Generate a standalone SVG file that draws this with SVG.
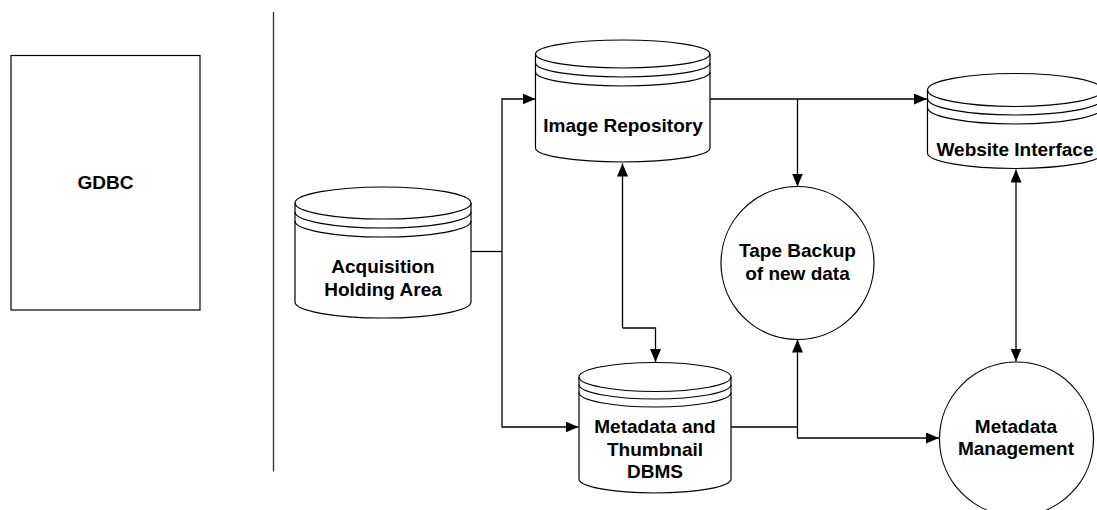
<svg xmlns="http://www.w3.org/2000/svg" width="1097" height="510" viewBox="0 0 1097 510">
<style>
  .shape { fill: #fff; stroke: #000; stroke-width: 1.2; }
  .inner { fill: none; stroke: #000; stroke-width: 1.2; }
  .lbl { font-family: "Liberation Sans", Arial, sans-serif; font-weight: bold; font-size: 19px; fill: #000; text-anchor: middle; }
  .conn { fill: none; stroke: #000; stroke-width: 1.3; }
</style>
<defs>
  <marker id="arr" markerUnits="userSpaceOnUse" markerWidth="14" markerHeight="12" refX="13" refY="5.5" orient="auto">
    <path d="M0,0 L13,5.5 L0,11 Z" fill="#000"/>
  </marker>
</defs>

<rect width="1097" height="510" fill="#fff"/>

<g id="gdbc">
  <rect class="shape" x="11" y="55.5" width="189" height="254.5"/>
  <text class="lbl" x="105.5" y="189">GDBC</text>
</g>

<g id="divider">
  <line x1="273.5" y1="12" x2="273.5" y2="471.5" stroke="#333" stroke-width="1.3"/>
</g>

<g id="connectors">
  <!-- Acquisition to Image Repository and Metadata DBMS -->
  <polyline class="conn" points="471,251.5 502,251.5"/>
  <polyline class="conn" points="502,251.5 502,99 535.5,99" marker-end="url(#arr)"/>
  <polyline class="conn" points="502,251.5 502,427 578.5,427" marker-end="url(#arr)"/>
  <!-- Image Repository to Website Interface and Tape Backup -->
  <polyline class="conn" points="710,99 927,99" marker-end="url(#arr)"/>
  <polyline class="conn" points="797.5,99 797.5,186.5" marker-end="url(#arr)"/>
  <!-- Image Repository <-> Metadata DBMS -->
  <polyline class="conn" points="622.5,328 622.5,163.5" marker-end="url(#arr)"/>
  <polyline class="conn" points="622.5,328 655.5,328 655.5,362" marker-end="url(#arr)"/>
  <!-- Metadata DBMS to Tape Backup and Metadata Management -->
  <polyline class="conn" points="731,427 797.5,427"/>
  <polyline class="conn" points="797.5,438 797.5,339.5" marker-end="url(#arr)"/>
  <polyline class="conn" points="797.5,438 939,438" marker-end="url(#arr)"/>
  <!-- Website Interface <-> Metadata Management -->
  <polyline class="conn" points="1016,265 1016,169.5" marker-end="url(#arr)"/>
  <polyline class="conn" points="1016,265 1016,361.5" marker-end="url(#arr)"/>
</g>

<g id="acquisition">
  <path class="shape" d="M295,203 A88,16 0 0 1 471,203 L471,302 A88,16 0 0 1 295,302 Z"/>
  <path class="inner" d="M295,203 A88,16 0 0 0 471,203 M295,212 A88,16 0 0 0 471,212 M295,221 A88,16 0 0 0 471,221"/>
  <text class="lbl" x="383" y="273.3">Acquisition</text>
  <text class="lbl" x="383" y="295.5">Holding Area</text>
</g>

<g id="image-repository">
  <path class="shape" d="M535.5,54 A87.25,14 0 0 1 710,54 L710,148 A87.25,14 0 0 1 535.5,148 Z"/>
  <path class="inner" d="M535.5,54 A87.25,14 0 0 0 710,54 M535.5,63 A87.25,14 0 0 0 710,63 M535.5,72 A87.25,14 0 0 0 710,72"/>
  <text class="lbl" x="623" y="132.3">Image Repository</text>
</g>

<g id="website-interface">
  <path class="shape" d="M927.5,90 A87.5,16.5 0 0 1 1102.5,90 L1102.5,153 A87.5,15.5 0 0 1 927.5,153 Z"/>
  <path class="inner" d="M927.5,90 A87.5,16.5 0 0 0 1102.5,90 M927.5,98.5 A87.5,16.5 0 0 0 1102.5,98.5 M927.5,107.5 A87.5,16.5 0 0 0 1102.5,107.5"/>
  <text class="lbl" x="1015" y="155.7">Website Interface</text>
</g>

<g id="tape-backup">
  <circle class="shape" cx="797.5" cy="263" r="76.5"/>
  <text class="lbl" x="797.5" y="256.7">Tape Backup</text>
  <text class="lbl" x="797.5" y="280">of new data</text>
</g>

<g id="metadata-dbms">
  <path class="shape" d="M579,377 A76,14.5 0 0 1 731,377 L731,479 A76,14 0 0 1 579,479 Z"/>
  <path class="inner" d="M579,377 A76,14.5 0 0 0 731,377 M579,384.5 A76,14.5 0 0 0 731,384.5 M579,392.5 A76,14.5 0 0 0 731,392.5"/>
  <text class="lbl" x="655" y="433.3">Metadata and</text>
  <text class="lbl" x="655" y="456">Thumbnail</text>
  <text class="lbl" x="655" y="477.7">DBMS</text>
</g>

<g id="metadata-management">
  <circle class="shape" cx="1016.5" cy="439" r="77"/>
  <text class="lbl" x="1016" y="432.7">Metadata</text>
  <text class="lbl" x="1016" y="455">Management</text>
</g>
</svg>
